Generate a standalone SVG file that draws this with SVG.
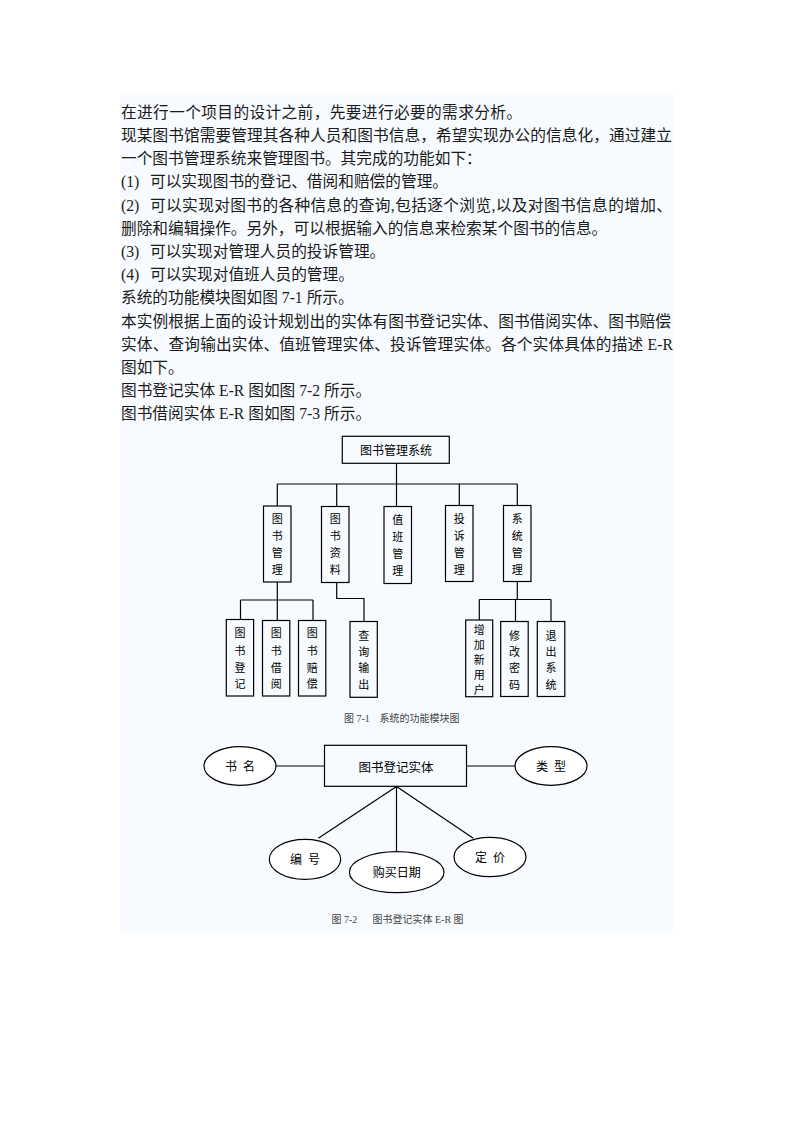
<svg xmlns="http://www.w3.org/2000/svg" width="793" height="1122" viewBox="0 0 793 1122">
<style>
.body{font-family:"Liberation Serif","Noto Sans CJK SC",serif;font-size:15.7px;fill:#1a1a1a}
.box{fill:none;stroke:#000;stroke-width:1.2}
.ell{fill:#fff;stroke:#000;stroke-width:1.2}
.ln{fill:none;stroke:#000;stroke-width:1.2}
.lbl{font-family:"Noto Sans CJK SC",sans-serif;font-size:12px;fill:#000;text-anchor:middle}
.vl{font-family:"Noto Sans CJK SC",sans-serif;font-size:11px;fill:#000;text-anchor:middle}
.cap{font-family:"Liberation Serif","Noto Sans CJK SC",serif;font-size:10px;fill:#444}
</style>
<rect x="0" y="0" width="793" height="1122" fill="#fff"/>
<rect x="120" y="95" width="553" height="838" fill="#f7fbff"/>

<g id="text">
<text class="body" x="121" y="118" textLength="401" lengthAdjust="spacing">在进行一个项目的设计之前，先要进行必要的需求分析。</text>
<text class="body" x="121" y="141" textLength="551" lengthAdjust="spacing">现某图书馆需要管理其各种人员和图书信息，希望实现办公的信息化，通过建立</text>
<text class="body" x="121" y="164">一个图书管理系统来管理图书。其完成的功能如下：</text>
<text class="body" x="121" y="187">(1)<tspan x="150">可以实现图书的登记、借阅和赔偿的管理。</tspan></text>
<text class="body" y="210.5"><tspan x="121">(2)</tspan><tspan x="150" textLength="522" lengthAdjust="spacing">可以实现对图书的各种信息的查询,包括逐个浏览,以及对图书信息的增加、</tspan></text>
<text class="body" x="121" y="233.5">删除和编辑操作。另外，可以根据输入的信息来检索某个图书的信息。</text>
<text class="body" x="121" y="257">(3)<tspan x="150">可以实现对管理人员的投诉管理。</tspan></text>
<text class="body" x="121" y="280">(4)<tspan x="150">可以实现对值班人员的管理。</tspan></text>
<text class="body" x="121" y="303">系统的功能模块图如图 7-1 所示。</text>
<text class="body" x="121" y="326.5" textLength="550" lengthAdjust="spacing">本实例根据上面的设计规划出的实体有图书登记实体、图书借阅实体、图书赔偿</text>
<text class="body" x="121" y="349.5" textLength="552" lengthAdjust="spacing">实体、查询输出实体、值班管理实体、投诉管理实体。各个实体具体的描述 E-R</text>
<text class="body" x="121" y="372.5">图如下。</text>
<text class="body" x="121" y="396">图书登记实体 E-R 图如图 7-2 所示。</text>
<text class="body" x="121" y="419">图书借阅实体 E-R 图如图 7-3 所示。</text>
</g>

<g id="connectors">
<path class="ln" d="M396.5 463V484M277.3 484H517.3M277.3 484V506M336.7 484V506M396.5 484V506M459.3 484V506M517.3 484V506"/>
<path class="ln" d="M277.3 582V600M240.5 600H313M240.5 600V620M277.3 600V620M313 600V620"/>
<path class="ln" d="M336.7 582V598.5H364V621"/>
<path class="ln" d="M517.3 582V599.5M479.3 599.5H551M479.3 599.5V620M515.5 599.5V621M551 599.5V621"/>
<path class="ln" d="M276 766H324.5M466.5 766H515M396.5 786.5L318.3 838.3M396.5 786.5V851.7M396.5 786.5L473.3 838.3"/>
</g>

<g id="root"><rect class="box" x="342.3" y="436.3" width="107" height="27"/><text class="lbl" x="396" y="454.5">图书管理系统</text></g>

<g id="n1"><rect class="box" x="263.5" y="506" width="27.5" height="76"/><text class="vl"><tspan x="277.3" y="523">图</tspan><tspan x="277.3" y="540">书</tspan><tspan x="277.3" y="557">管</tspan><tspan x="277.3" y="574">理</tspan></text></g>
<g id="n2"><rect class="box" x="321.5" y="506.5" width="27.5" height="76"/><text class="vl"><tspan x="335.3" y="523">图</tspan><tspan x="335.3" y="540">书</tspan><tspan x="335.3" y="557">资</tspan><tspan x="335.3" y="574">料</tspan></text></g>
<g id="n3"><rect class="box" x="384" y="506.5" width="27.5" height="77"/><text class="vl"><tspan x="397.8" y="524">值</tspan><tspan x="397.8" y="541">班</tspan><tspan x="397.8" y="558">管</tspan><tspan x="397.8" y="575">理</tspan></text></g>
<g id="n4"><rect class="box" x="445.5" y="505.5" width="27.5" height="76"/><text class="vl"><tspan x="459.3" y="523">投</tspan><tspan x="459.3" y="540">诉</tspan><tspan x="459.3" y="557">管</tspan><tspan x="459.3" y="574">理</tspan></text></g>
<g id="n5"><rect class="box" x="503.5" y="505.5" width="27.5" height="76"/><text class="vl"><tspan x="517.3" y="523">系</tspan><tspan x="517.3" y="540">统</tspan><tspan x="517.3" y="557">管</tspan><tspan x="517.3" y="574">理</tspan></text></g>

<g id="g1"><rect class="box" x="226.3" y="619.5" width="27.3" height="76.5"/><text class="vl"><tspan x="240" y="637">图</tspan><tspan x="240" y="655">书</tspan><tspan x="240" y="672">登</tspan><tspan x="240" y="688">记</tspan></text></g>
<g id="g2"><rect class="box" x="262.5" y="620.5" width="27.3" height="75.5"/><text class="vl"><tspan x="276.2" y="637">图</tspan><tspan x="276.2" y="655">书</tspan><tspan x="276.2" y="672">借</tspan><tspan x="276.2" y="688">阅</tspan></text></g>
<g id="g3"><rect class="box" x="298.5" y="620.5" width="27.3" height="75.5"/><text class="vl"><tspan x="312.2" y="637">图</tspan><tspan x="312.2" y="655">书</tspan><tspan x="312.2" y="672">赔</tspan><tspan x="312.2" y="688">偿</tspan></text></g>
<g id="g4"><rect class="box" x="350" y="621.5" width="27.3" height="75.8"/><text class="vl"><tspan x="363.7" y="640">查</tspan><tspan x="363.7" y="656">询</tspan><tspan x="363.7" y="672">输</tspan><tspan x="363.7" y="689">出</tspan></text></g>
<g id="g5"><rect class="box" x="465.7" y="620" width="27" height="76.7"/><text class="vl"><tspan x="479.2" y="634">增</tspan><tspan x="479.2" y="649">加</tspan><tspan x="479.2" y="664">新</tspan><tspan x="479.2" y="679">用</tspan><tspan x="479.2" y="694">户</tspan></text></g>
<g id="g6"><rect class="box" x="500.7" y="621.5" width="27.5" height="75"/><text class="vl"><tspan x="514.5" y="640">修</tspan><tspan x="514.5" y="656">改</tspan><tspan x="514.5" y="672">密</tspan><tspan x="514.5" y="689">码</tspan></text></g>
<g id="g7"><rect class="box" x="537.3" y="621.5" width="27.5" height="75"/><text class="vl"><tspan x="551" y="640">退</tspan><tspan x="551" y="656">出</tspan><tspan x="551" y="672">系</tspan><tspan x="551" y="689">统</tspan></text></g>

<text class="cap" x="344" y="722">图 7-1</text>
<text class="cap" x="379.5" y="722">系统的功能模块图</text>

<g id="entity"><rect class="box" x="324.5" y="745.3" width="142" height="41"/><text class="lbl" x="396" y="771.5" style="font-size:12.5px">图书登记实体</text></g>
<g id="a_shuming"><ellipse class="ell" cx="240" cy="766" rx="36" ry="19.3"/><text class="lbl" y="770.5"><tspan x="231">书</tspan><tspan x="249">名</tspan></text></g>
<g id="a_leixing"><ellipse class="ell" cx="551" cy="766" rx="36" ry="19.3"/><text class="lbl" y="770.5"><tspan x="542">类</tspan><tspan x="560">型</tspan></text></g>
<g id="a_bianhao"><ellipse class="ell" cx="305" cy="859.3" rx="35.7" ry="20"/><text class="lbl" y="863.5"><tspan x="296">编</tspan><tspan x="314">号</tspan></text></g>
<g id="a_goumai"><ellipse class="ell" cx="396.7" cy="872.2" rx="47.3" ry="20.5"/><text class="lbl" x="396.7" y="876.5">购买日期</text></g>
<g id="a_dingjia"><ellipse class="ell" cx="490" cy="857" rx="36" ry="19.7"/><text class="lbl" y="861.5"><tspan x="481">定</tspan><tspan x="499">价</tspan></text></g>

<text class="cap" x="331.5" y="922.5">图 7-2</text>
<text class="cap" x="372.5" y="922.5">图书登记实体 E-R 图</text>
</svg>
